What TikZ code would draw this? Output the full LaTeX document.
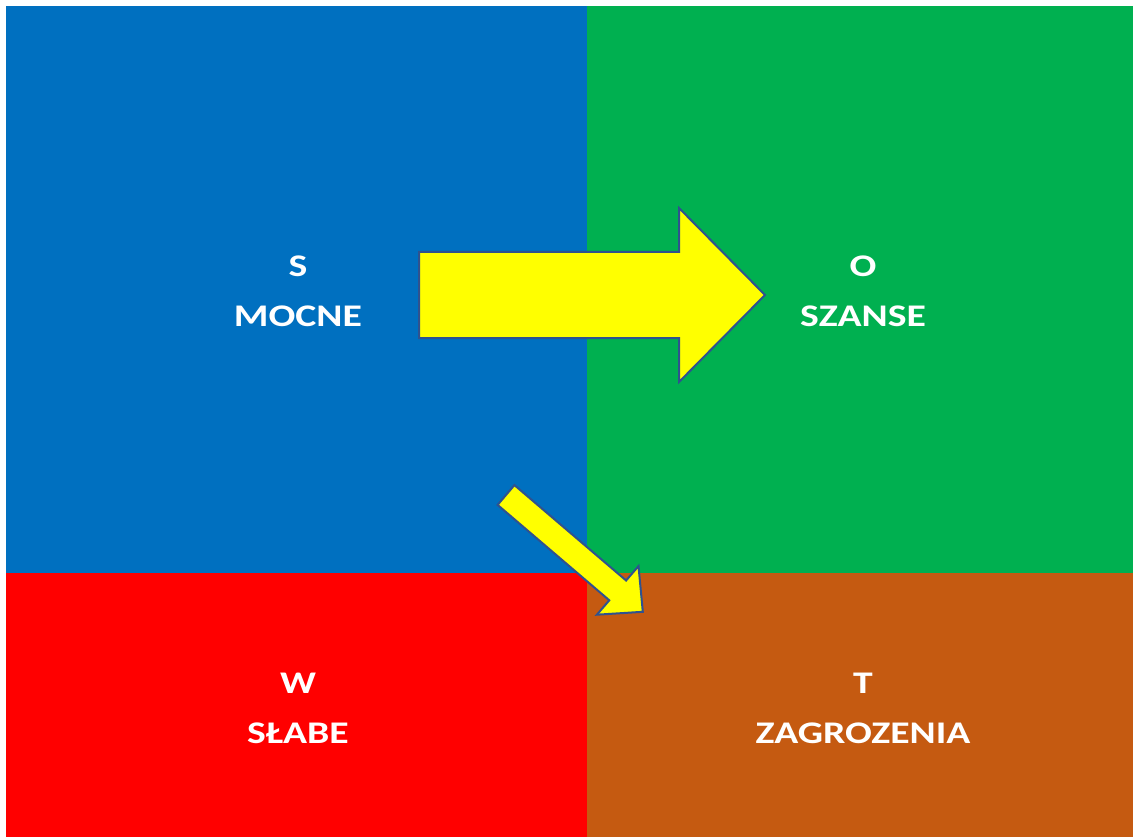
\documentclass[tikz,border=0pt]{standalone}
\usepackage{fontspec}
\setmainfont{Carlito}[FakeStretch=1.26]
\definecolor{swotS}{HTML}{0070C0}
\definecolor{swotO}{HTML}{00B050}
\definecolor{swotW}{HTML}{FF0000}
\definecolor{swotT}{HTML}{C55A11}
\definecolor{arrowfill}{HTML}{FFFF00}
\definecolor{arrowline}{HTML}{2F528F}
\tikzset{
  quadlabel/.style={text=white, align=center, inner sep=0pt,
    font=\fontsize{31.5}{50}\selectfont\bfseries},
  bigarrow/.style={fill=arrowfill, draw=arrowline, line width=2pt, line join=miter}
}
\begin{document}
\begin{tikzpicture}[x=1pt,y=-1pt]
  \useasboundingbox (0,0) rectangle (1133,837);
  \coordinate (TL) at (6,6);
  \coordinate (M) at (587,573);
  \coordinate (BR) at (1133,837);

  % quadrants
  \fill[swotS] (TL) rectangle (M);
  \fill[swotO] (M |- TL) rectangle (BR |- M);
  \fill[swotW] (TL |- M) rectangle (M |- BR);
  \fill[swotT] (M) rectangle (BR);

  \node[quadlabel] (S) at (298,291) {S\\MOCNE};
  \node[quadlabel] (O) at (863,291) {O\\SZANSE};
  \node[quadlabel] (W) at (298,708) {W\\SŁABE};
  \node[quadlabel] (T) at (863,708) {T\\ZAGROZENIA};

  % arrows
  \draw[bigarrow] (419,252) -- (679,252) -- (679,208) -- (765,295)
    -- (679,382) -- (679,338) -- (419,338) -- cycle;
  \draw[bigarrow] (514.4,485.1) -- (626.1,580.5) -- (638.5,566.1) -- (642.8,611.8)
    -- (596.9,614.7) -- (609.3,600.3) -- (497.6,504.9) -- cycle;
\end{tikzpicture}
\end{document}
